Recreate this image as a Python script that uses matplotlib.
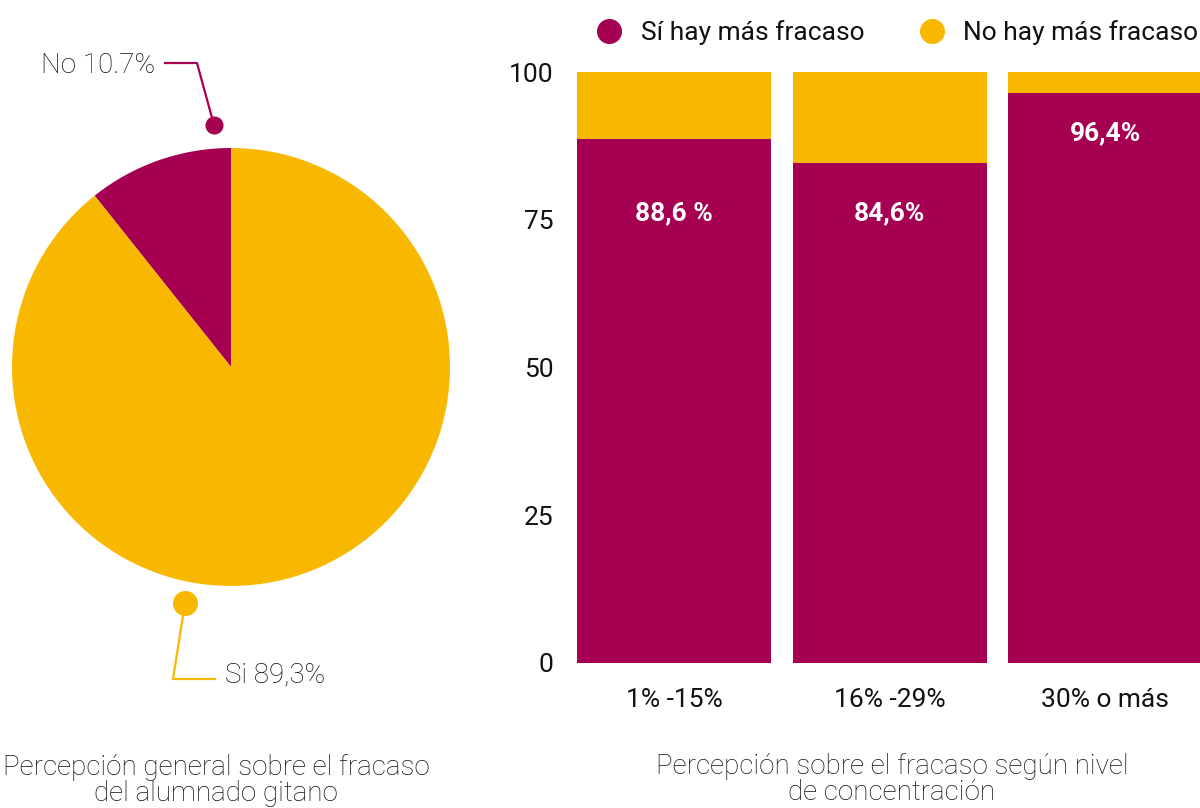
import numpy as np
import matplotlib
matplotlib.use("Agg")
import matplotlib.pyplot as plt
from matplotlib.lines import Line2D

plt.rcParams['font.family'] = ['Roboto', 'DejaVu Sans']

# data
pie_labels = ['No 10.7%', 'Si 89,3%']
pie_values = [10.7, 89.3]

categories = ['1% -15%', '16% -29%', '30% o más']
si_values = [88.6, 84.6, 96.4]
no_values = [100 - v for v in si_values]
bar_labels = ['88,6 %', '84,6%', '96,4%']
series_names = ['Sí hay más fracaso', 'No hay más fracaso']

MAGENTA = '#A60052'
YELLOW = '#F9B800'
TEXT = '#111111'

W, H = 1200, 808
fig = plt.figure(figsize=(W / 100, H / 100), dpi=100)

# ---- pie (axes in px, radius 219 px, centre at 231,367) ----
R = 219.0
cx, cy = 231.0, 367.0
pax = fig.add_axes([0, 0, 460 / W, 1])
pax.pie(pie_values, colors=[MAGENTA, YELLOW], startangle=90, counterclock=True,
        radius=1, wedgeprops=dict(linewidth=0))
pax.set_aspect('equal', adjustable='datalim')
pax.set_xlim(-cx / R, (460 - cx) / R)
pax.set_ylim(-(H - cy) / R, cy / R)
pax.axis('off')


def pt(px, py):
    return ((px - cx) / R, (cy - py) / R)


# leader line for "No"
no_path = [pt(214, 125), pt(197, 63), pt(165, 63)]
pax.plot(*zip(*no_path), color=MAGENTA, lw=1.6, clip_on=False)
pax.plot(*no_path[0], 'o', color=MAGENTA, ms=12, clip_on=False)
tx, ty = pt(155, 65)
pax.text(tx, ty, pie_labels[0], ha='right', va='center', fontsize=20,
         color=TEXT, fontweight='light')

# leader line for "Si"
si_path = [pt(185, 603), pt(173, 679), pt(215, 679)]
pax.plot(*zip(*si_path), color=YELLOW, lw=1.6, clip_on=False)
pax.plot(*si_path[0], 'o', color=YELLOW, ms=17, clip_on=False)
tx, ty = pt(225, 675)
pax.text(tx, ty, pie_labels[1], ha='left', va='center', fontsize=20,
         color=TEXT, fontweight='light')

# ---- stacked bars ----
bax = fig.add_axes([577 / W, (H - 663) / H, (W - 577) / W, 591 / H])
x = np.arange(len(categories))
bax.bar(x, si_values, width=0.9, color=MAGENTA, linewidth=0)
bax.bar(x, no_values, bottom=si_values, width=0.9, color=YELLOW, linewidth=0)
bax.set_xlim(-0.45, 2.44)
bax.set_ylim(0, 100)
for s in bax.spines.values():
    s.set_visible(False)
bax.set_yticks([0, 25, 50, 75, 100])
bax.tick_params(axis='y', length=0, pad=17, labelsize=19, labelcolor=TEXT)
bax.set_xticks(x)
bax.set_xticklabels(categories)
bax.tick_params(axis='x', length=0, pad=18, labelsize=19, labelcolor=TEXT)

label_y = [76.1, 76.1, 89.7]
for xi, yy, lab in zip(x, label_y, bar_labels):
    bax.text(xi, yy, lab, ha='center', va='center', color='white',
             fontsize=19, fontweight='bold')

handles = [Line2D([], [], marker='o', ls='', color=MAGENTA, ms=17),
           Line2D([], [], marker='o', ls='', color=YELLOW, ms=17)]
fig.legend(handles, series_names, loc='center left', ncol=2,
           bbox_to_anchor=(600 / W, 1 - 33 / H), frameon=False, fontsize=19,
           handlelength=0.7, handletextpad=0.85, columnspacing=2.2,
           borderaxespad=0, borderpad=0, labelcolor=TEXT)

# ---- bottom captions ----
fig.text(216 / W, 1 - 754 / H,
         'Percepción general sobre el fracaso\ndel alumnado gitano',
         ha='center', va='top', fontsize=20, color=TEXT, fontweight='light',
         linespacing=0.95)
fig.text(892 / W, 1 - 753 / H,
         'Percepción sobre el fracaso según nivel\nde concentración',
         ha='center', va='top', fontsize=20, color=TEXT, fontweight='light',
         linespacing=0.95)

fig.savefig('out.png', dpi=100)
